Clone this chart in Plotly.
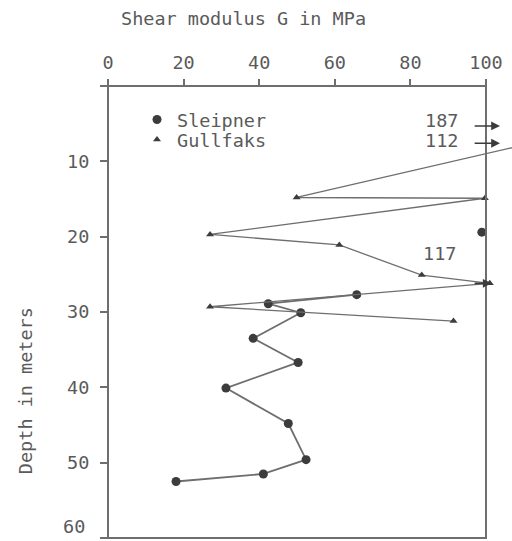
import plotly.graph_objects as go

# ---- data ----
sleipner_g = [98.9, None, 65.8, 42.4, 51.0, 38.4, 50.3, 31.2, 47.7, 52.4, 41.1, 18.0]
sleipner_depth = [19.4, None, 27.7, 28.9, 30.1, 33.5, 36.7, 40.1, 44.8, 49.6, 51.5, 52.5]

gullfaks_g = [112, 49.9, 99.7, 27.0, 61.2, 83.0, 101.0, 27.0, 91.4]
gullfaks_depth = [7.6, 14.8, 14.9, 19.7, 21.1, 25.1, 26.2, 29.3, 31.2]

offscale_values = [187, 112, 117]
offscale_depths = [5.3, 7.6, 26.2]

x_ticks = [0, 20, 40, 60, 80, 100]
y_ticks = [0, 10, 20, 30, 40, 50, 60]
y_ticktext = ["", "10", "20", "30", "40", "50", ""]
y_bottom_label = "60"

FONT = "DejaVu Sans Mono"
TXT = "#5a5a5a"
LINE = "#6e6e6e"
MARK = "#3c3c3c"
XMAX = 106.88

series = [
    ("Sleipner", sleipner_g, sleipner_depth, "legend", 1.8, "circle", 9),
    ("Gullfaks", gullfaks_g, gullfaks_depth, "legend2", 1.3, "triangle-up", 7),
]

fig = go.Figure()
for name, gx, gy, leg, lw, sym, ms in series:
    # connecting line (not in legend)
    fig.add_trace(go.Scatter(
        x=gx, y=gy, mode="lines", connectgaps=False, showlegend=False,
        line=dict(color=LINE, width=lw), hoverinfo="skip",
    ))
    # data points (legend shows the symbol only)
    fig.add_trace(go.Scatter(
        x=gx, y=gy, name=name, mode="markers", legend=leg,
        marker=dict(symbol=sym, size=ms, color=MARK),
    ))

# frame box 0-100 x 0-60 (paper coords, so it is not clipped)
fig.add_shape(type="rect", xref="paper", yref="paper", x0=0, x1=100 / XMAX, y0=0, y1=1,
              line=dict(color=LINE, width=2), layer="above")

# off-scale values with arrows
label_pos = [(88.1, 4.6), (88.1, 7.2), (87.8, 22.2)]
arrow_heads = [103.7, 103.7, 101.5]
for val, d, (lx, ly), hx in zip(offscale_values, offscale_depths, label_pos, arrow_heads):
    fig.add_annotation(x=lx, y=ly, xref="x", yref="y", text=str(val), showarrow=False,
                       font=dict(family=FONT, size=18.5, color=TXT))
    fig.add_annotation(x=hx, y=d, ax=96.6, ay=d, xref="x", yref="y", axref="x", ayref="y",
                       text="", showarrow=True, arrowhead=2, arrowsize=1.1, arrowwidth=1.6,
                       arrowcolor=MARK)

# bottom tick label (sits just above the page edge)
fig.add_annotation(x=-0.054, y=y_ticks[-1], xref="paper", yref="y", xanchor="right", yanchor="bottom",
                   text=y_bottom_label, showarrow=False, borderpad=0,
                   font=dict(family=FONT, size=18.5, color=TXT))

fig.add_annotation(x=0.0273, y=1.150, xref="paper", yref="paper", xanchor="left", yanchor="middle",
                   text="Shear modulus G in MPa", showarrow=False,
                   font=dict(family=FONT, size=18.5, color=TXT))
fig.add_annotation(x=-0.2055, y=0.327, xref="paper", yref="paper", xanchor="center", yanchor="middle",
                   text="Depth in meters", textangle=-90, showarrow=False,
                   font=dict(family=FONT, size=18.5, color=TXT))

legend_style = dict(xanchor="left", yanchor="top", bgcolor="rgba(0,0,0,0)",
                    font=dict(family=FONT, size=18.5, color=TXT))

fig.update_layout(
    width=512, height=541,
    margin=dict(l=108, r=0, t=86, b=3),
    paper_bgcolor="white", plot_bgcolor="white",
    font=dict(family=FONT, size=18.5, color=TXT),
    showlegend=True,
    legend=dict(x=0.0718, y=0.9668, **legend_style),
    legend2=dict(x=0.0718, y=0.9226, **legend_style),
    xaxis=dict(side="top", range=[0, XMAX], tickvals=x_ticks, showgrid=False, zeroline=False,
               showline=False, ticks="outside", ticklen=6, tickcolor=LINE, tickwidth=1.5,
               ticklabelstandoff=3),
    yaxis=dict(range=[60, 0], tickvals=y_ticks, ticktext=y_ticktext, showgrid=False, zeroline=False,
               showline=False, ticks="outside", ticklen=7, tickcolor=LINE, tickwidth=1.5,
               ticklabelstandoff=7),
)

fig.write_html("out.html", config={"displayModeBar": False},
               post_script="document.body.style.margin='0';")
